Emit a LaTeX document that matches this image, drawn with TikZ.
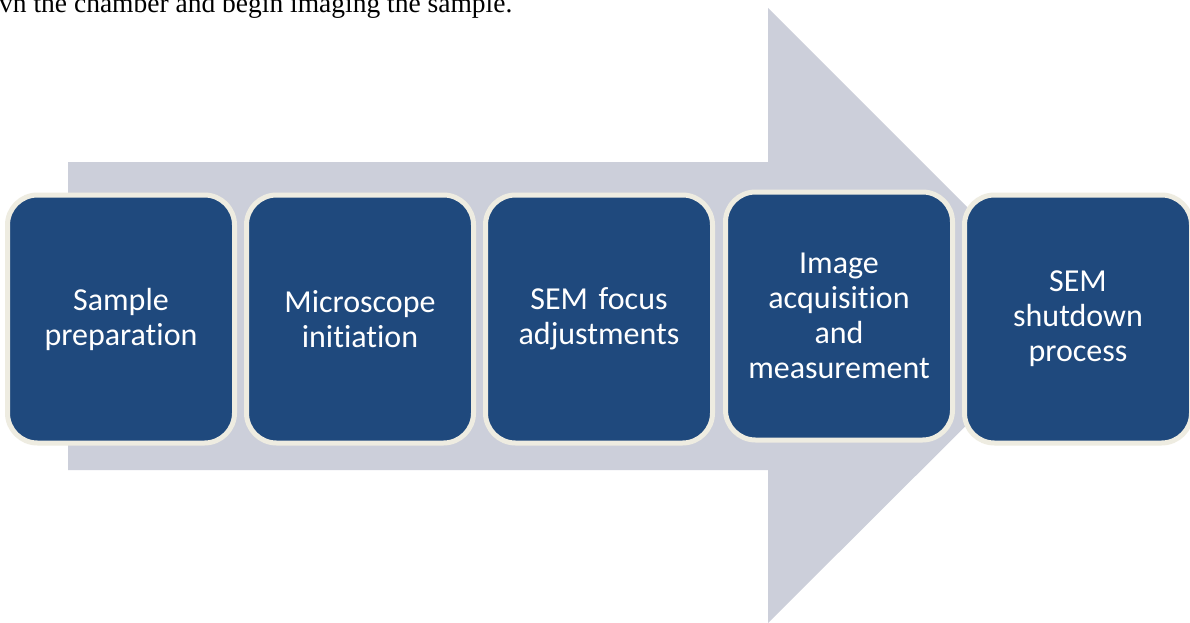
\documentclass[tikz,border=0pt]{standalone}
\usepackage{fontspec}
\setmainfont[Ligatures=NoCommon]{Carlito}
\newfontfamily\serifnote{Liberation Serif}
\definecolor{stepblue}{RGB}{31,73,125}
\definecolor{stepborder}{RGB}{238,236,225}
\definecolor{arrowgrey}{RGB}{204,207,218}
\tikzset{
  stepbox/.style={draw=stepborder, line width=5pt, fill=stepblue,
    rounded corners=30pt, minimum width=227pt, minimum height=248pt,
    text=white, align=center, text width=215pt,
    font=\fontsize{32}{35}\selectfont, inner sep=0pt},
  bigarrow/.style={fill=arrowgrey, draw=none}
}
\begin{document}
\begin{tikzpicture}[x=1pt,y=-1pt]
\useasboundingbox (0,0) rectangle (1190,623);
\fill[white] (0,0) rectangle (1190,623);
\node[anchor=base west, inner sep=0pt, font=\serifnote\fontsize{27.5}{30}\selectfont] (note) at (-1,13) {vn the chamber and begin imaging the sample.};
\fill[bigarrow] (68,162) -- (768,162) -- (768,8) -- (1076,316) -- (768,623) -- (768,470) -- (68,470) -- cycle;
\node[stepbox] (s1) at (121,319) {Sample\\preparation};
\node[stepbox] (s2) at (360,319) {Microscope\\initiation};
\node[stepbox] (s3) at (599,319) {SEM focus\\adjustments};
\node[stepbox] (s4) at (839,316) {Image\\acquisition\\and\\measurement};
\node[stepbox] (s5) at (1078,319) {SEM\\shutdown\\process};
\end{tikzpicture}
\end{document}
